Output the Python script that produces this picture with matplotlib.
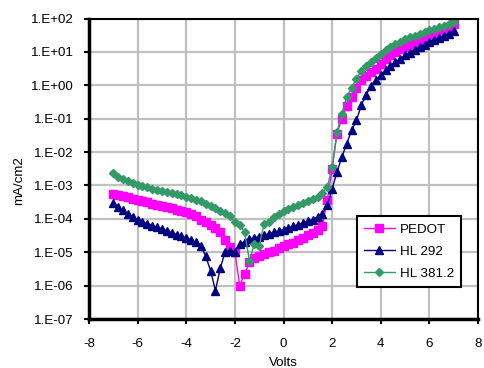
import numpy as np
import matplotlib
matplotlib.use("Agg")
import matplotlib.pyplot as plt
from matplotlib.ticker import FixedLocator, FuncFormatter

plt.rcParams['font.family'] = ['Liberation Sans', 'DejaVu Sans']
plt.rcParams['axes.unicode_minus'] = False

volts = [round(-7.0 + 0.2 * i, 1) for i in range(71)]

# log10 of current density (mA/cm2)
pedot_log = [-3.26, -3.30, -3.33, -3.36, -3.40, -3.44, -3.47, -3.51, -3.55, -3.58,
             -3.62, -3.65, -3.69, -3.73, -3.78, -3.81, -3.87, -3.93, -4.02, -4.10,
             -4.18, -4.27, -4.40, -4.62, -4.85, -5.00, -6.00, -5.65, -5.30, -5.18,
             -5.10, -5.05, -5.00, -4.95, -4.88, -4.82, -4.76, -4.72, -4.64, -4.56,
             -4.49, -4.42, -4.32, -4.20, -3.45, -2.50, -1.45, -1.00, -0.62, -0.35,
             -0.08, 0.15, 0.28, 0.40, 0.50, 0.65, 0.78, 0.90, 1.00, 1.08,
             1.15, 1.22, 1.28, 1.34, 1.40, 1.45, 1.52, 1.60, 1.67, 1.75, 1.85]

hl292_log = [-3.54, -3.65, -3.75, -3.85, -3.95, -4.04, -4.10, -4.15, -4.20, -4.25,
             -4.30, -4.36, -4.42, -4.47, -4.52, -4.57, -4.63, -4.70, -4.80, -5.12,
             -5.55, -6.15, -5.48, -4.99, -4.95, -4.98, -4.75, -4.68, -4.60, -4.57,
             -4.53, -4.49, -4.45, -4.40, -4.36, -4.32, -4.28, -4.22, -4.18, -4.12,
             -4.07, -4.02, -3.95, -3.85, -3.60, -3.10, -2.60, -2.15, -1.75, -1.35,
             -1.05, -0.60, -0.28, -0.02, 0.15, 0.30, 0.45, 0.58, 0.70, 0.80,
             0.90, 0.98, 1.07, 1.15, 1.22, 1.30, 1.36, 1.42, 1.48, 1.55, 1.62]

hl381_log = [-2.63, -2.75, -2.82, -2.88, -2.94, -2.99, -3.02, -3.06, -3.10, -3.13,
             -3.16, -3.20, -3.23, -3.27, -3.30, -3.34, -3.39, -3.43, -3.48, -3.55,
             -3.62, -3.68, -3.76, -3.82, -3.92, -4.10, -4.17, -4.40, -5.25, -4.75,
             -4.82, -4.15, -4.08, -3.95, -3.85, -3.78, -3.70, -3.64, -3.58, -3.52,
             -3.48, -3.42, -3.35, -3.22, -3.05, -2.45, -1.40, -0.85, -0.35, -0.08,
             0.20, 0.42, 0.57, 0.70, 0.83, 0.95, 1.05, 1.15, 1.25, 1.31,
             1.38, 1.44, 1.48, 1.55, 1.60, 1.65, 1.70, 1.74, 1.79, 1.84, 1.90]

series_names = ["PEDOT", "HL 292", "HL 381.2"]
x_ticks = [-8, -6, -4, -2, 0, 2, 4, 6, 8]
y_exponents = [-7, -6, -5, -4, -3, -2, -1, 0, 1, 2]

fig = plt.figure(figsize=(4.84, 3.68), dpi=100)
W, H = 484, 368
L, R, T, B = 89, 478, 18.5, 319
ax = fig.add_axes([L / W, 1 - B / H, (R - L) / W, (B - T) / H])

x = np.array(volts)
styles = [
    dict(color='#ff00ff', marker='s', ms=5.4, mec='#ff00ff', mfc='#ff00ff'),
    dict(color='#000080', marker='^', ms=5.6, mec='#000080', mfc='#000080'),
    dict(color='#339966', marker='D', ms=4.0, mec='#339966', mfc='#339966'),
]
for name, logs, st in zip(series_names, [pedot_log, hl292_log, hl381_log], styles):
    ax.plot(x, 10.0 ** np.array(logs), lw=1.0, label=name, **st)

ax.set_yscale('log')
ax.set_ylim(1e-7, 1e2)
ax.set_xlim(-8, 8)
ax.yaxis.set_major_locator(FixedLocator([10.0 ** e for e in y_exponents]))
ax.yaxis.set_minor_locator(FixedLocator([]))
ax.yaxis.set_major_formatter(FuncFormatter(lambda v, p: "1.E%+03d" % int(round(np.log10(v)))))
ax.set_xticks(x_ticks)

ax.grid(True, color='#c0c0c0', lw=1.6)
ax.set_axisbelow(True)
for s in ['top', 'right']:
    ax.spines[s].set_linewidth(1.5)
for s in ['left', 'bottom']:
    ax.spines[s].set_linewidth(2.5)
for s in ax.spines.values():
    s.set_color('black')
ax.tick_params(axis='both', direction='out', length=3.5, width=1.5, labelsize=9.6, colors='black')
ax.tick_params(axis='y', pad=7.5)
ax.tick_params(axis='x', pad=10.5)

leg = ax.legend(loc='lower left', bbox_to_anchor=(0.688, 0.1065), borderaxespad=0,
                fancybox=False, edgecolor='black', framealpha=1, fontsize=9.6,
                handlelength=2.3, labelspacing=0.72, borderpad=0.55, handletextpad=0.4)
leg.get_frame().set_linewidth(1.5)

fig.text(19 / W, 1 - 181 / H, "mA/cm2", rotation=90, ha='center', va='center', fontsize=9.6)
fig.text(283.7 / W, 1 - 366.5 / H, "Volts", ha='center', va='baseline', fontsize=9.6)

fig.savefig("out.png", dpi=100)
